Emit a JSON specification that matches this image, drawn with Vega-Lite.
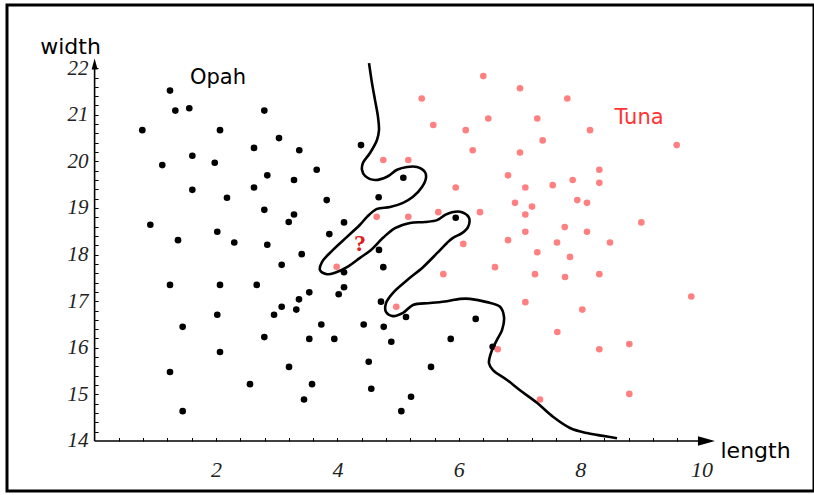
{
  "$schema": "https://vega.github.io/schema/vega-lite/v6.json",
  "autosize": {"type": "none"},
  "padding": {"left": 7, "top": 5, "right": 0, "bottom": 4},
  "width": 807,
  "height": 486,
  "background": "#ffffff",
  "config": {
    "view": {"stroke": "#000000", "strokeWidth": 3},
    "axis": {"grid": false, "labelOverlap": false}
  },
  "resolve": {"axis": {"x": "independent", "y": "independent"}},
  "datasets": {
    "fish": [
      {"species": "Opah", "length": 1.242, "width": 21.52},
      {"species": "Opah", "length": 1.330, "width": 21.09},
      {"species": "Opah", "length": 1.560, "width": 21.14},
      {"species": "Opah", "length": 2.796, "width": 21.09},
      {"species": "Opah", "length": 0.786, "width": 20.67},
      {"species": "Opah", "length": 2.066, "width": 20.67},
      {"species": "Opah", "length": 3.038, "width": 20.50},
      {"species": "Opah", "length": 2.626, "width": 20.29},
      {"species": "Opah", "length": 1.610, "width": 20.12},
      {"species": "Opah", "length": 1.115, "width": 19.92},
      {"species": "Opah", "length": 1.979, "width": 19.97},
      {"species": "Opah", "length": 2.845, "width": 19.70},
      {"species": "Opah", "length": 2.626, "width": 19.44},
      {"species": "Opah", "length": 1.610, "width": 19.39},
      {"species": "Opah", "length": 2.181, "width": 19.22},
      {"species": "Opah", "length": 2.796, "width": 18.96},
      {"species": "Opah", "length": 3.198, "width": 18.70},
      {"species": "Opah", "length": 0.918, "width": 18.64},
      {"species": "Opah", "length": 2.021, "width": 18.49},
      {"species": "Opah", "length": 1.374, "width": 18.31},
      {"species": "Opah", "length": 2.301, "width": 18.26},
      {"species": "Opah", "length": 2.845, "width": 18.21},
      {"species": "Opah", "length": 3.082, "width": 17.78},
      {"species": "Opah", "length": 1.242, "width": 17.35},
      {"species": "Opah", "length": 2.066, "width": 17.35},
      {"species": "Opah", "length": 2.671, "width": 17.35},
      {"species": "Opah", "length": 3.082, "width": 16.88},
      {"species": "Opah", "length": 2.956, "width": 16.71},
      {"species": "Opah", "length": 2.021, "width": 16.71},
      {"species": "Opah", "length": 1.451, "width": 16.45},
      {"species": "Opah", "length": 2.796, "width": 16.23},
      {"species": "Opah", "length": 2.066, "width": 15.91},
      {"species": "Opah", "length": 3.203, "width": 15.59},
      {"species": "Opah", "length": 1.242, "width": 15.48},
      {"species": "Opah", "length": 2.560, "width": 15.22},
      {"species": "Opah", "length": 1.451, "width": 14.64},
      {"species": "Opah", "length": 3.372, "width": 20.24},
      {"species": "Opah", "length": 4.389, "width": 20.35},
      {"species": "Opah", "length": 3.659, "width": 19.82},
      {"species": "Opah", "length": 3.285, "width": 19.60},
      {"species": "Opah", "length": 5.086, "width": 19.65},
      {"species": "Opah", "length": 3.824, "width": 19.17},
      {"species": "Opah", "length": 4.680, "width": 19.23},
      {"species": "Opah", "length": 3.285, "width": 18.86},
      {"species": "Opah", "length": 4.109, "width": 18.69},
      {"species": "Opah", "length": 3.867, "width": 18.44},
      {"species": "Opah", "length": 5.949, "width": 18.79},
      {"species": "Opah", "length": 4.685, "width": 18.10},
      {"species": "Opah", "length": 3.412, "width": 18.01},
      {"species": "Opah", "length": 4.109, "width": 17.62},
      {"species": "Opah", "length": 4.756, "width": 17.73},
      {"species": "Opah", "length": 4.109, "width": 17.30},
      {"species": "Opah", "length": 3.537, "width": 17.19},
      {"species": "Opah", "length": 4.021, "width": 17.15},
      {"species": "Opah", "length": 3.367, "width": 17.04},
      {"species": "Opah", "length": 3.323, "width": 16.82},
      {"species": "Opah", "length": 4.718, "width": 16.99},
      {"species": "Opah", "length": 5.130, "width": 16.66},
      {"species": "Opah", "length": 3.735, "width": 16.50},
      {"species": "Opah", "length": 4.433, "width": 16.50},
      {"species": "Opah", "length": 4.763, "width": 16.45},
      {"species": "Opah", "length": 6.278, "width": 16.62},
      {"species": "Opah", "length": 3.537, "width": 16.19},
      {"species": "Opah", "length": 3.949, "width": 16.19},
      {"species": "Opah", "length": 4.888, "width": 16.13},
      {"species": "Opah", "length": 5.867, "width": 16.19},
      {"species": "Opah", "length": 4.516, "width": 15.70},
      {"species": "Opah", "length": 5.542, "width": 15.59},
      {"species": "Opah", "length": 3.582, "width": 15.22},
      {"species": "Opah", "length": 4.558, "width": 15.12},
      {"species": "Opah", "length": 3.450, "width": 14.89},
      {"species": "Opah", "length": 5.213, "width": 14.95},
      {"species": "Opah", "length": 5.053, "width": 14.64},
      {"species": "Opah", "length": 6.558, "width": 16.02},
      {"species": "Tuna", "length": 5.389, "width": 21.35},
      {"species": "Tuna", "length": 5.580, "width": 20.78},
      {"species": "Tuna", "length": 6.114, "width": 20.67},
      {"species": "Tuna", "length": 6.229, "width": 20.24},
      {"species": "Tuna", "length": 4.756, "width": 20.03},
      {"species": "Tuna", "length": 5.168, "width": 20.03},
      {"species": "Tuna", "length": 5.949, "width": 19.44},
      {"species": "Tuna", "length": 4.647, "width": 18.81},
      {"species": "Tuna", "length": 5.168, "width": 18.81},
      {"species": "Tuna", "length": 5.662, "width": 18.91},
      {"species": "Tuna", "length": 6.349, "width": 18.91},
      {"species": "Tuna", "length": 6.074, "width": 18.23},
      {"species": "Tuna", "length": 5.745, "width": 17.58},
      {"species": "Tuna", "length": 3.988, "width": 17.74},
      {"species": "Tuna", "length": 4.970, "width": 16.88},
      {"species": "Tuna", "length": 6.404, "width": 21.83},
      {"species": "Tuna", "length": 7.008, "width": 21.57},
      {"species": "Tuna", "length": 7.788, "width": 21.35},
      {"species": "Tuna", "length": 6.486, "width": 20.92},
      {"species": "Tuna", "length": 7.293, "width": 20.92},
      {"species": "Tuna", "length": 8.162, "width": 20.67},
      {"species": "Tuna", "length": 7.382, "width": 20.45},
      {"species": "Tuna", "length": 7.008, "width": 20.19},
      {"species": "Tuna", "length": 8.315, "width": 19.82},
      {"species": "Tuna", "length": 6.811, "width": 19.70},
      {"species": "Tuna", "length": 7.096, "width": 19.44},
      {"species": "Tuna", "length": 7.547, "width": 19.49},
      {"species": "Tuna", "length": 7.876, "width": 19.60},
      {"species": "Tuna", "length": 8.315, "width": 19.54},
      {"species": "Tuna", "length": 6.926, "width": 19.11},
      {"species": "Tuna", "length": 7.206, "width": 19.03},
      {"species": "Tuna", "length": 7.952, "width": 19.17},
      {"species": "Tuna", "length": 8.112, "width": 19.11},
      {"species": "Tuna", "length": 7.096, "width": 18.86},
      {"species": "Tuna", "length": 9.007, "width": 18.69},
      {"species": "Tuna", "length": 7.096, "width": 18.49},
      {"species": "Tuna", "length": 7.745, "width": 18.59},
      {"species": "Tuna", "length": 8.112, "width": 18.49},
      {"species": "Tuna", "length": 6.811, "width": 18.31},
      {"species": "Tuna", "length": 7.618, "width": 18.26},
      {"species": "Tuna", "length": 8.491, "width": 18.26},
      {"species": "Tuna", "length": 7.293, "width": 18.05},
      {"species": "Tuna", "length": 7.832, "width": 17.95},
      {"species": "Tuna", "length": 6.596, "width": 17.73},
      {"species": "Tuna", "length": 7.255, "width": 17.58},
      {"species": "Tuna", "length": 7.750, "width": 17.52},
      {"species": "Tuna", "length": 8.315, "width": 17.58},
      {"species": "Tuna", "length": 7.096, "width": 16.98},
      {"species": "Tuna", "length": 8.035, "width": 16.82},
      {"species": "Tuna", "length": 7.623, "width": 16.34},
      {"species": "Tuna", "length": 6.641, "width": 15.97},
      {"species": "Tuna", "length": 8.315, "width": 15.97},
      {"species": "Tuna", "length": 8.809, "width": 16.08},
      {"species": "Tuna", "length": 7.338, "width": 14.89},
      {"species": "Tuna", "length": 8.809, "width": 15.01},
      {"species": "Tuna", "length": 9.590, "width": 20.35},
      {"species": "Tuna", "length": 9.830, "width": 17.10}
    ],
    "boundary": [
      {"i": 1, "length": 4.521, "width": 22.11},
      {"i": 2, "length": 4.570, "width": 21.68},
      {"i": 3, "length": 4.619, "width": 21.32},
      {"i": 4, "length": 4.669, "width": 20.95},
      {"i": 5, "length": 4.685, "width": 20.67},
      {"i": 6, "length": 4.652, "width": 20.46},
      {"i": 7, "length": 4.537, "width": 20.18},
      {"i": 8, "length": 4.422, "width": 19.97},
      {"i": 9, "length": 4.405, "width": 19.82},
      {"i": 10, "length": 4.455, "width": 19.69},
      {"i": 11, "length": 4.619, "width": 19.60},
      {"i": 12, "length": 4.817, "width": 19.67},
      {"i": 13, "length": 4.982, "width": 19.82},
      {"i": 14, "length": 5.147, "width": 19.88},
      {"i": 15, "length": 5.311, "width": 19.88},
      {"i": 16, "length": 5.443, "width": 19.77},
      {"i": 17, "length": 5.459, "width": 19.64},
      {"i": 18, "length": 5.394, "width": 19.45},
      {"i": 19, "length": 5.245, "width": 19.24},
      {"i": 20, "length": 5.081, "width": 19.11},
      {"i": 21, "length": 4.867, "width": 19.02},
      {"i": 22, "length": 4.652, "width": 18.98},
      {"i": 23, "length": 4.488, "width": 18.81},
      {"i": 24, "length": 4.372, "width": 18.64},
      {"i": 25, "length": 4.158, "width": 18.38},
      {"i": 26, "length": 3.927, "width": 18.10},
      {"i": 27, "length": 3.746, "width": 17.84},
      {"i": 28, "length": 3.713, "width": 17.67},
      {"i": 29, "length": 3.829, "width": 17.58},
      {"i": 30, "length": 3.960, "width": 17.61},
      {"i": 31, "length": 4.158, "width": 17.73},
      {"i": 32, "length": 4.372, "width": 17.93},
      {"i": 33, "length": 4.554, "width": 18.10},
      {"i": 34, "length": 4.751, "width": 18.36},
      {"i": 35, "length": 4.949, "width": 18.57},
      {"i": 36, "length": 5.196, "width": 18.68},
      {"i": 37, "length": 5.443, "width": 18.70},
      {"i": 38, "length": 5.641, "width": 18.74},
      {"i": 39, "length": 5.772, "width": 18.85},
      {"i": 40, "length": 5.888, "width": 18.91},
      {"i": 41, "length": 6.053, "width": 18.91},
      {"i": 42, "length": 6.168, "width": 18.79},
      {"i": 43, "length": 6.151, "width": 18.59},
      {"i": 44, "length": 6.053, "width": 18.46},
      {"i": 45, "length": 5.904, "width": 18.36},
      {"i": 46, "length": 5.805, "width": 18.25},
      {"i": 47, "length": 5.641, "width": 18.03},
      {"i": 48, "length": 5.410, "width": 17.73},
      {"i": 49, "length": 5.147, "width": 17.45},
      {"i": 50, "length": 4.916, "width": 17.18},
      {"i": 51, "length": 4.801, "width": 16.96},
      {"i": 52, "length": 4.801, "width": 16.77},
      {"i": 53, "length": 4.916, "width": 16.68},
      {"i": 54, "length": 5.081, "width": 16.75},
      {"i": 55, "length": 5.245, "width": 16.92},
      {"i": 56, "length": 5.525, "width": 16.96},
      {"i": 57, "length": 5.805, "width": 17.00},
      {"i": 58, "length": 6.020, "width": 17.05},
      {"i": 59, "length": 6.184, "width": 17.05},
      {"i": 60, "length": 6.464, "width": 16.98},
      {"i": 61, "length": 6.679, "width": 16.88},
      {"i": 62, "length": 6.745, "width": 16.66},
      {"i": 63, "length": 6.712, "width": 16.38},
      {"i": 64, "length": 6.629, "width": 16.17},
      {"i": 65, "length": 6.547, "width": 15.95},
      {"i": 66, "length": 6.497, "width": 15.67},
      {"i": 67, "length": 6.563, "width": 15.52},
      {"i": 68, "length": 6.794, "width": 15.31},
      {"i": 69, "length": 7.008, "width": 15.09},
      {"i": 70, "length": 7.288, "width": 14.82},
      {"i": 71, "length": 7.552, "width": 14.52},
      {"i": 72, "length": 7.832, "width": 14.28},
      {"i": 73, "length": 8.112, "width": 14.17},
      {"i": 74, "length": 8.376, "width": 14.11},
      {"i": 75, "length": 8.607, "width": 14.06}
    ]
  },
  "layer": [
    {
      "data": {"values": [
        {"length": 0, "length2": 10.05, "width": 14, "width2": 14},
        {"length": 0, "length2": 0, "width": 14, "width2": 22.0}
      ]},
      "mark": {"type": "rule", "color": "#000000", "strokeWidth": 1.6},
      "encoding": {
        "x": {"field": "length", "type": "quantitative",
          "scale": {"domain": [-1.4432, 11.8517], "nice": false, "zero": false},
          "axis": {
            "orient": "bottom", "offset": -50, "domain": false, "labels": false, "title": null,
            "values": [0.4, 0.8, 1.2, 1.6, 2, 2.4, 2.8, 3.2, 3.6, 4, 4.4, 4.8, 5.2, 5.6, 6, 6.4, 6.8, 7.2, 7.6, 8, 8.4, 8.8, 9.2, 9.6, 10],
            "tickSize": -3.5, "tickColor": "#000000", "tickWidth": 1
          }
        },
        "x2": {"field": "length2"},
        "y": {"field": "width", "type": "quantitative",
          "scale": {"domain": [12.927, 23.356], "nice": false, "zero": false},
          "axis": {
            "orient": "left", "offset": -87.6, "domain": false, "labels": false, "title": null,
            "values": [14.2, 14.4, 14.6, 14.8, 15, 15.2, 15.4, 15.6, 15.8, 16, 16.2, 16.4, 16.6, 16.8, 17, 17.2, 17.4, 17.6, 17.8, 18, 18.2, 18.4, 18.6, 18.8, 19, 19.2, 19.4, 19.6, 19.8, 20, 20.2, 20.4, 20.6, 20.8, 21, 21.2, 21.4, 21.6, 21.8, 22],
            "tickSize": -3.5, "tickColor": "#000000", "tickWidth": 1
          }
        },
        "y2": {"field": "width2"}
      }
    },
    {
      "data": {"values": [{"length": 10.08, "width": 14}]},
      "mark": {"type": "point", "shape": "M-1,-0.55L1,0L-1,0.55Z", "filled": true, "color": "#000000", "size": 289, "opacity": 1},
      "encoding": {
        "x": {"field": "length", "type": "quantitative",
          "axis": {
            "orient": "bottom", "offset": -50, "domain": false, "ticks": false, "tickSize": 0,
            "values": [2, 4, 6, 8, 10], "format": ".0f",
            "labelOverlap": false, "labelFlush": false, "labelBound": false,
            "labelFont": "Liberation Serif", "labelFontStyle": "italic", "labelFontSize": 22,
            "labelColor": "#222222", "labelPadding": 18.5,
            "title": "length", "titleFont": "DejaVu Sans", "titleFontSize": 22, "titleFontWeight": "normal",
            "titleColor": "#000000", "titleAlign": "left", "titleBaseline": "alphabetic",
            "titleX": 713, "titleY": 16, "titleAngle": 0
          }
        },
        "y": {"field": "width", "type": "quantitative",
          "axis": {
            "orient": "left", "offset": -87.6, "domain": false, "ticks": false, "tickSize": 0,
            "values": [14, 15, 16, 17, 18, 19, 20, 21, 22], "format": ".0f",
            "labelOverlap": false, "labelFlush": false, "labelBound": false,
            "labelFont": "Liberation Serif", "labelFontStyle": "italic", "labelFontSize": 21,
            "labelColor": "#222222", "labelPadding": 6.5,
            "title": "width", "titleFont": "DejaVu Sans", "titleFontSize": 22, "titleFontWeight": "normal",
            "titleColor": "#000000", "titleAlign": "center", "titleBaseline": "alphabetic",
            "titleX": -24.6, "titleY": 48, "titleAngle": 0
          }
        }
      }
    },
    {
      "data": {"values": [{"length": 0, "width": 22.09}]},
      "mark": {"type": "point", "shape": "M-0.55,1L0,-1L0.55,1Z", "filled": true, "color": "#000000", "size": 121, "opacity": 1},
      "encoding": {
        "x": {"field": "length", "type": "quantitative", "axis": null},
        "y": {"field": "width", "type": "quantitative", "axis": null}
      }
    },
    {
      "data": {"name": "fish"},
      "mark": {"type": "circle", "size": 44, "opacity": 1},
      "encoding": {
        "x": {"field": "length", "type": "quantitative", "axis": null},
        "y": {"field": "width", "type": "quantitative", "axis": null},
        "color": {"field": "species", "type": "nominal",
          "scale": {"domain": ["Opah", "Tuna"], "range": ["#000000", "#ff8080"]},
          "legend": null}
      }
    },
    {
      "data": {"name": "boundary"},
      "mark": {"type": "line", "color": "#000000", "strokeWidth": 2.6, "interpolate": "catmull-rom"},
      "encoding": {
        "x": {"field": "length", "type": "quantitative", "axis": null},
        "y": {"field": "width", "type": "quantitative", "axis": null},
        "order": {"field": "i", "type": "quantitative"}
      }
    },
    {
      "data": {"values": [
        {"label": "Opah", "length": 2.033, "width": 21.655},
        {"label": "Tuna", "length": 8.969, "width": 20.80}
      ]},
      "mark": {"type": "text", "font": "DejaVu Sans", "fontSize": 21, "align": "center", "baseline": "alphabetic"},
      "encoding": {
        "x": {"field": "length", "type": "quantitative", "axis": null},
        "y": {"field": "width", "type": "quantitative", "axis": null},
        "text": {"field": "label"},
        "color": {"condition": {"test": "datum.label === 'Tuna'", "value": "#ff3333"}, "value": "#000000"}
      }
    },
    {
      "data": {"values": [{"label": "?", "length": 4.372, "width": 18.08}]},
      "mark": {"type": "text", "font": "Liberation Serif", "fontSize": 24, "fontWeight": "bold", "color": "#e02020", "align": "center", "baseline": "alphabetic"},
      "encoding": {
        "x": {"field": "length", "type": "quantitative", "axis": null},
        "y": {"field": "width", "type": "quantitative", "axis": null},
        "text": {"field": "label"}
      }
    }
  ]
}
